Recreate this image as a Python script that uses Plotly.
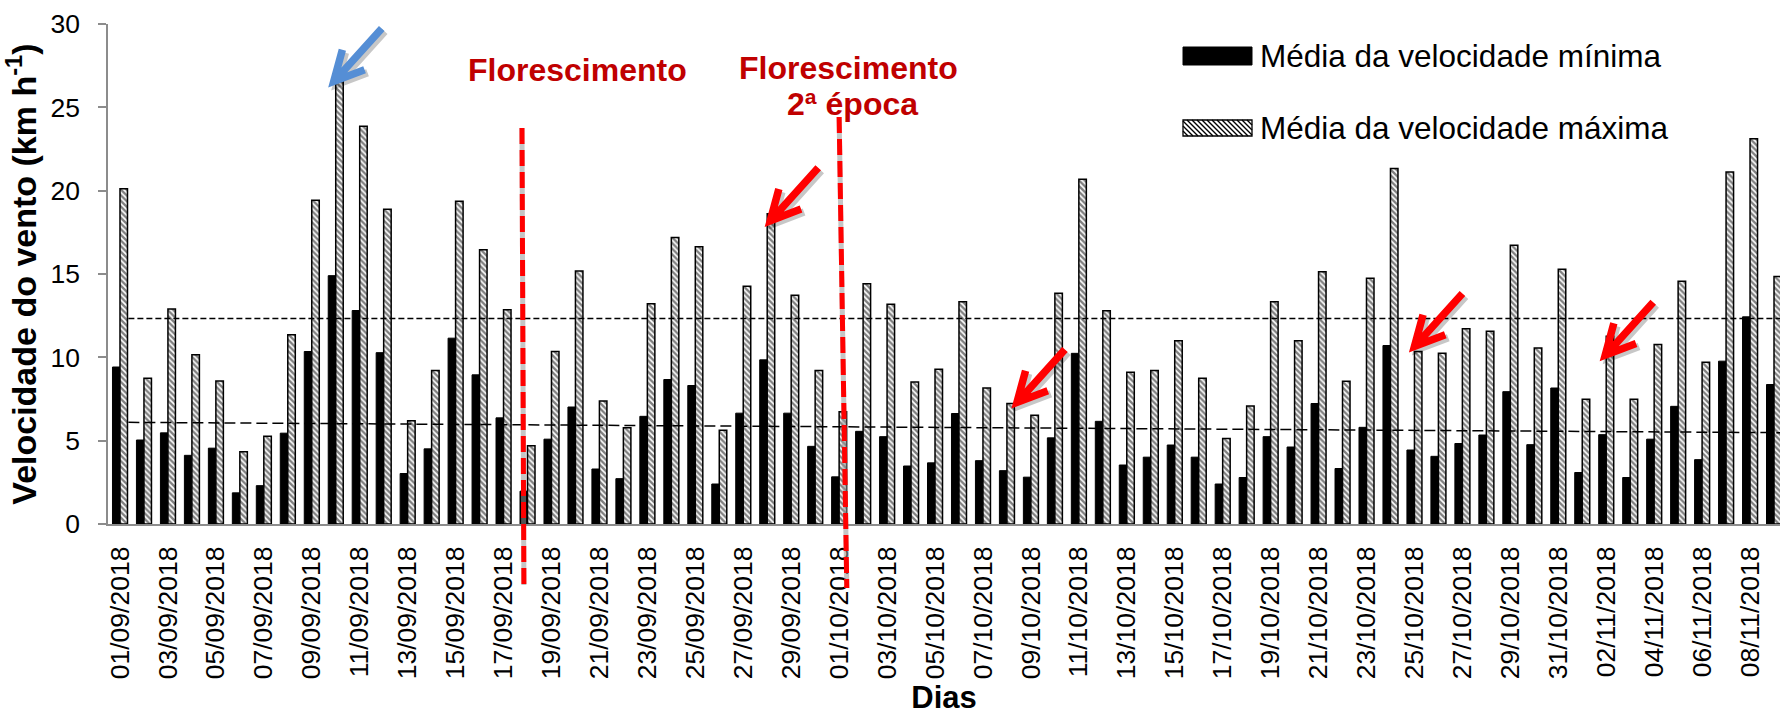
import math
from datetime import date, timedelta

import plotly.graph_objects as go

# ---------------------------------------------------------------- data
dias = [(date(2018, 9, 1) + timedelta(days=i)).strftime("%d/%m/%Y") for i in range(70)]

vel_min = [9.42, 5.04, 5.47, 4.12, 4.55, 1.87, 2.30, 5.45, 10.35, 14.90,
           12.81, 10.28, 3.03, 4.51, 11.15, 8.95, 6.37, 1.97, 5.09, 7.02,
           3.30, 2.72, 6.46, 8.67, 8.31, 2.40, 6.65, 9.85, 6.65, 4.66,
           2.83, 5.56, 5.24, 3.48, 3.67, 6.63, 3.80, 3.20, 2.81, 5.17,
           10.24, 6.16, 3.54, 4.01, 4.74, 4.01, 2.40, 2.79, 5.24, 4.62,
           7.23, 3.33, 5.80, 10.71, 4.44, 4.06, 4.83, 5.34, 7.94, 4.76,
           8.16, 3.09, 5.36, 2.79, 5.09, 7.06, 3.86, 9.77, 12.43, 8.37]

vel_max = [20.11, 8.74, 12.90, 10.15, 8.58, 4.34, 5.26, 11.35, 19.42, 26.55,
           23.87, 18.89, 6.20, 9.21, 19.36, 16.46, 12.86, 4.70, 10.35, 15.18,
           7.38, 5.77, 13.22, 17.19, 16.63, 5.62, 14.27, 18.61, 13.72, 9.21,
           6.74, 14.42, 13.18, 8.52, 9.29, 13.33, 8.16, 7.23, 6.52, 13.84,
           20.69, 12.79, 9.10, 9.21, 10.99, 8.74, 5.13, 7.08, 13.33, 10.99,
           15.13, 8.56, 14.74, 21.33, 10.35, 10.24, 11.72, 11.57, 16.72, 10.56,
           15.28, 7.49, 11.27, 7.49, 10.77, 14.57, 9.70, 21.12, 23.12, 14.85]

x_ticks = dias[::2]
y_ticks = [0, 5, 10, 15, 20, 25, 30]

# linear trends of both series (start / end of the plotted span)
tend_x = [0.35, 69.25]
tend_max = [12.33, 12.33]
tend_min = [6.10, 5.48]

# flowering marks (category position at top and bottom of the red line)
flor_1 = [16.77, 16.85]
flor_2 = [30.00, 30.32]

# days highlighted with arrows: (day, colour, tip shift x, tip shift y)
destaques = [("10/09/2018", "#558ED5", -2, 0),
             ("28/09/2018", "#FF0000", 3, -7),
             ("08/10/2018", "#FF0000", 10, 1),
             ("25/10/2018", "#FF0000", 0, 5),
             ("02/11/2018", "#FF0000", -1, -19)]

# ---------------------------------------------------------------- geometry
W, H = 1780, 715
ML, MR, MT, MB = 108, 0, 24, 191
PW, PH = W - ML - MR, H - MT - MB
FONT = "Liberation Sans, Arial, sans-serif"


def px_x(x):
    return (x - ML) / PW


def px_y(y):
    return (H - MB - y) / PH


fig = go.Figure()

fig.add_bar(
    x=dias, y=vel_min, name="Média da velocidade mínima", showlegend=False,
    marker=dict(color="black", line=dict(color="black", width=1)),
)
fig.add_bar(
    x=dias, y=vel_max, name="Média da velocidade máxima", showlegend=False,
    marker=dict(color="white", line=dict(color="black", width=1.5),
                pattern=dict(shape="\\", fgcolor="black", bgcolor="white",
                             size=4, solidity=0.6)),
)

shapes = []
# trend lines
shapes.append(dict(type="line", xref="x", yref="y", x0=tend_x[0], x1=tend_x[1],
                   y0=tend_max[0], y1=tend_max[1],
                   line=dict(color="black", width=1.5, dash="6px,3px")))
shapes.append(dict(type="line", xref="x", yref="y", x0=tend_x[0], x1=tend_x[1],
                   y0=tend_min[0], y1=tend_min[1],
                   line=dict(color="black", width=1.5, dash="11px,5px")))

# red flowering lines with a soft grey shadow
for xs, ytop, ybot in [(flor_1, px_y(128), px_y(585)), (flor_2, px_y(117), px_y(588))]:
    shapes.append(dict(type="line", xref="x", yref="paper", x0=xs[0], x1=xs[1],
                       y0=ytop, y1=ybot, layer="above",
                       line=dict(color="rgba(150,150,150,0.55)", width=5)))
    shapes.append(dict(type="line", xref="x", yref="paper", x0=xs[0], x1=xs[1],
                       y0=ytop, y1=ybot, layer="above",
                       line=dict(color="#FF0000", width=5, dash="16px,6px")))

# arrows anchored on the tops of the highlighted bars
tail = (48, 53)
arm_len, arm_ang = 33, math.radians(27)
ang = math.atan2(tail[1], tail[0])
arm1 = (arm_len * math.cos(ang + arm_ang), arm_len * math.sin(ang + arm_ang))
arm2 = (arm_len * math.cos(ang - arm_ang), arm_len * math.sin(ang - arm_ang))
for dia, cor, dx, dy in destaques:
    i = dias.index(dia)
    for off, c in [((3, -3), "rgba(0,0,0,0.22)"), ((0, 0), cor)]:
        ox, oy = dx + off[0], dy + off[1]
        path = (f"M{tail[0]+ox},{tail[1]+oy} L{ox+2},{oy+2} "
                f"M{arm1[0]+ox},{arm1[1]+oy} L{ox},{oy} L{arm2[0]+ox},{arm2[1]+oy}")
        shapes.append(dict(type="path", xref="x", yref="y",
                           xsizemode="pixel", ysizemode="pixel",
                           xanchor=i, yanchor=vel_max[i], path=path,
                           line=dict(color=c, width=7.5), layer="above"))

# legend swatches
L, R = 1183, 1252
shapes.append(dict(type="rect", xref="paper", yref="paper",
                   x0=px_x(L), x1=px_x(R), y0=px_y(47), y1=px_y(65),
                   fillcolor="black", line=dict(color="black", width=1)))
top, bot = 120, 136
shapes.append(dict(type="rect", xref="paper", yref="paper",
                   x0=px_x(L), x1=px_x(R), y0=px_y(top), y1=px_y(bot),
                   fillcolor="white", line=dict(color="black", width=1.3)))
h = bot - top
segs = []
x = L - h
while x < R:
    t0 = max(0.0, (L - x) / h)
    t1 = min(1.0, (R - x) / h)
    if t1 > t0:
        segs.append(f"M{px_x(x + t0*h)},{px_y(top + t0*h)} L{px_x(x + t1*h)},{px_y(top + t1*h)}")
    x += 5.0
shapes.append(dict(type="path", xref="paper", yref="paper", path=" ".join(segs),
                   line=dict(color="black", width=1.4)))

annotations = [
    dict(text="Média da velocidade mínima", x=px_x(1258), y=px_y(56),
         xanchor="left", yanchor="middle"),
    dict(text="Média da velocidade máxima", x=px_x(1258), y=px_y(128),
         xanchor="left", yanchor="middle"),
]
for a in annotations:
    a.update(xref="paper", yref="paper", showarrow=False,
             font=dict(family=FONT, size=31.5, color="black"))

for txt, cx, cy in [("Florescimento", 577, 70), ("Florescimento", 848.5, 68),
                    ("2ª época", 852, 104)]:
    annotations.append(dict(text=f"<b>{txt}</b>", x=px_x(cx), y=px_y(cy),
                            xref="paper", yref="paper", showarrow=False,
                            xanchor="center", yanchor="middle",
                            font=dict(family=FONT, size=32, color="#C00000")))

fig.update_layout(
    width=W, height=H,
    margin=dict(l=ML, r=MR, t=MT, b=MB, autoexpand=False),
    paper_bgcolor="white", plot_bgcolor="white",
    barmode="group", bargap=0.374, bargroupgap=0,
    font=dict(family=FONT, color="black"),
    shapes=shapes, annotations=annotations,
    showlegend=False,
    xaxis=dict(
        type="category", range=[-0.5, 69.25], tickmode="array",
        tickvals=x_ticks, ticktext=x_ticks, tickangle=-90,
        tickfont=dict(size=26.5, color="black"), ticks="",
        ticklabelstandoff=10,
        showline=True, linecolor="#8C8C8C", linewidth=2, showgrid=False,
        automargin=False,
        title=dict(text="<b>Dias</b>", font=dict(size=31, color="black"), standoff=9),
    ),
    yaxis=dict(
        range=[0, 30], tickmode="array", tickvals=y_ticks,
        tickfont=dict(size=26.5, color="black"),
        ticks="outside", ticklen=8, tickcolor="#8C8C8C", tickwidth=1.5,
        ticklabelstandoff=13,
        showline=True, linecolor="#8C8C8C", linewidth=1.5,
        showgrid=False, zeroline=False, automargin=False,
        title=dict(text="<b>Velocidade do vento (km h<sup>-1</sup>)</b>",
                   font=dict(size=34, color="black"), standoff=5),
    ),
)

fig.write_html("out.html")
